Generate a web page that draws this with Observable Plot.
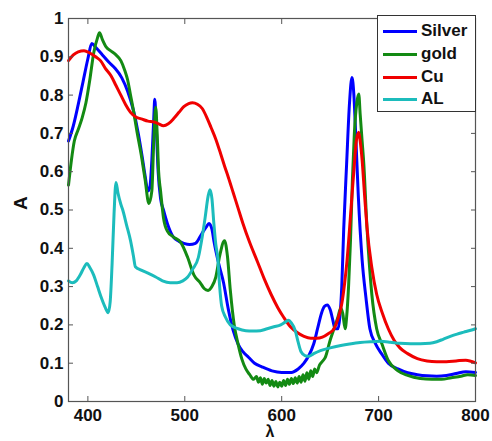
<!DOCTYPE html>
<html><head><meta charset="utf-8">
<script src="https://cdn.jsdelivr.net/npm/d3@7"></script>
<script src="https://cdn.jsdelivr.net/npm/@observablehq/plot@0.6"></script>
<style>
body{margin:0;background:#fff;}
#wrap{position:relative;width:492px;height:441px;font-family:"Liberation Sans",Arial,sans-serif;}
.legend{position:absolute;left:377px;top:15px;width:99px;height:97px;border:1px solid #333;background:#fff;box-sizing:border-box;}
.row{position:absolute;left:0;height:20px;width:98px;}
.sw{position:absolute;left:5px;top:9px;width:34px;height:3px;}
.lab{position:absolute;left:43px;top:0;font-size:17px;font-weight:bold;line-height:20px;color:#111;}
</style>
</head><body>
<div id="wrap"></div>
<script>
const seriesNames = ["Silver", "gold", "Cu", "AL"];
const seriesColors = ["#0000ff", "#138a13", "#f00000", "#1cbcbc"];
const xTicks = [400, 500, 600, 700, 800];
const yTicks = [0, 0.1, 0.2, 0.3, 0.4, 0.5, 0.6, 0.7, 0.8, 0.9, 1];

const silverL = [380,385,390,395,400,404,408,415,422,428,435,441,447,452,456,459,462,464,466,468,469,470.5,472.5,475,478,482,488,494,499,505,511,518,522,525,528,530,535,540,545,550,555,560,566,572,580,590,600,610,617,623,628,633,637,641,644,647,650,653,655,658,660,662,664,667,670,672.5,674.5,676,679,683,687,691,697,703,710,720,730,740,750,760,770,780,790,800];
const silverA = [0.68,0.72,0.775,0.835,0.895,0.935,0.925,0.905,0.885,0.87,0.845,0.81,0.76,0.70,0.64,0.59,0.55,0.56,0.63,0.74,0.789,0.72,0.60,0.53,0.50,0.465,0.43,0.418,0.413,0.41,0.413,0.44,0.455,0.465,0.45,0.42,0.36,0.31,0.24,0.185,0.15,0.13,0.115,0.10,0.09,0.08,0.076,0.076,0.085,0.10,0.12,0.15,0.19,0.23,0.248,0.252,0.24,0.21,0.19,0.19,0.22,0.30,0.45,0.62,0.78,0.846,0.80,0.72,0.54,0.37,0.27,0.19,0.15,0.125,0.10,0.085,0.075,0.07,0.067,0.066,0.068,0.073,0.078,0.076];

const goldL = [380,383,386,390,394,398,402,406,410,412,415,419,424,429,434,438,441,444,447,451,455,459,463,466,468,470,471.5,473,475,478,482,488,496,503,509.5,516,520,524,528,532,536,541,544,547,551,555,559,563,567,571,574,576,578,580,582,584,586,588,590,592,594,596,598,600,602,604,606,608,610,612,614,616,618,620,622,624,626,628,630,632,634,636,639,642,645,650,654,658,661,663,665.5,667,669,671,673,675,677.5,679.5,681,683,684.5,688,693,698,703.5,710,720,730,743,755,765,775,785,792,800];
const goldA = [0.565,0.63,0.68,0.71,0.74,0.78,0.84,0.91,0.95,0.963,0.945,0.925,0.915,0.905,0.89,0.865,0.84,0.80,0.76,0.70,0.645,0.58,0.517,0.55,0.68,0.768,0.70,0.60,0.55,0.48,0.445,0.43,0.415,0.376,0.33,0.31,0.295,0.29,0.30,0.325,0.38,0.42,0.38,0.29,0.20,0.15,0.11,0.085,0.07,0.058,0.065,0.05,0.062,0.045,0.06,0.048,0.058,0.042,0.055,0.04,0.052,0.038,0.05,0.04,0.055,0.042,0.058,0.045,0.06,0.047,0.062,0.048,0.065,0.05,0.07,0.053,0.075,0.058,0.08,0.065,0.085,0.075,0.095,0.105,0.115,0.16,0.19,0.22,0.245,0.23,0.19,0.22,0.30,0.42,0.58,0.70,0.78,0.803,0.75,0.68,0.63,0.455,0.28,0.19,0.15,0.107,0.08,0.068,0.06,0.058,0.058,0.062,0.066,0.07,0.068];

const cuL = [380,385,390,396,402,408,413,418,424,429,434,439,444,450,455,462,468,473,478,483,489,494,499,504,508,513,518,523,527,532,537,541,545,550,555,560,567,575,582,589,596,602,609,616,623,630,636,642,648,654,658,662,665,667.5,670,672.6,675,677,679.5,681,683,685.5,688,693,698,704,710,716,722,730,740,750,760,770,780,790,800];
const cuA = [0.89,0.905,0.913,0.916,0.91,0.90,0.89,0.87,0.85,0.825,0.80,0.775,0.755,0.742,0.738,0.732,0.73,0.725,0.72,0.725,0.74,0.755,0.77,0.778,0.78,0.776,0.765,0.74,0.716,0.685,0.647,0.615,0.585,0.545,0.505,0.465,0.415,0.365,0.32,0.28,0.245,0.22,0.195,0.18,0.17,0.165,0.165,0.168,0.177,0.19,0.215,0.255,0.31,0.37,0.45,0.54,0.62,0.68,0.703,0.68,0.63,0.54,0.455,0.35,0.28,0.23,0.19,0.16,0.14,0.125,0.112,0.106,0.104,0.104,0.106,0.108,0.101];

const alL = [380,384,388,392,396,399,402,406,410,414,418,421,423,425,427,429,431,434,436,440,444,447,449,455,462,470,477,485,492,498,503,508,514,518,521,524,526,528,530,532,534,536,538,542,547,555,563,570,578,585,592,599,604,607,610,614,617,620,624,628,633,640,650,661,670,681,692,702,712,722,733,743,753,760,767,774,781,788,795,800];
const alA = [0.315,0.31,0.315,0.33,0.35,0.36,0.35,0.33,0.30,0.27,0.245,0.232,0.26,0.36,0.49,0.572,0.545,0.515,0.50,0.46,0.42,0.38,0.352,0.343,0.335,0.325,0.315,0.31,0.31,0.315,0.325,0.345,0.376,0.43,0.48,0.535,0.553,0.53,0.465,0.41,0.376,0.30,0.25,0.22,0.20,0.19,0.185,0.184,0.185,0.19,0.195,0.20,0.208,0.212,0.205,0.185,0.155,0.13,0.12,0.118,0.125,0.133,0.14,0.146,0.15,0.154,0.156,0.157,0.155,0.152,0.151,0.151,0.152,0.156,0.163,0.17,0.176,0.181,0.186,0.19];

const seriesL = [silverL, goldL, cuL, alL];
const seriesA = [silverA, goldA, cuA, alA];
const rows = seriesNames.map((name, i) => seriesL[i].map((l, j) => ({series: name, lambda: l, A: seriesA[i][j]})));

const font = "Liberation Sans, Arial, sans-serif";
const chart = Plot.plot({
  width: 492, height: 441,
  marginLeft: 68, marginRight: 17, marginTop: 18, marginBottom: 40,
  style: {fontFamily: font, fontSize: "17px", fontWeight: "bold", color: "#111", background: "#fff", overflow: "visible"},
  x: {domain: [380, 800]},
  y: {domain: [0, 1]},
  marks: [
    ...rows.map((r, i) => Plot.line(r, {x: "lambda", y: "A", stroke: seriesColors[i], strokeWidth: 3, curve: "monotone-x"})),
    Plot.frame({stroke: "#555", strokeWidth: 1.2}),
    Plot.axisX(xTicks, {anchor: "bottom", tickSize: -5, tickPadding: 12, label: null, stroke: "#555"}),
    Plot.axisX(xTicks, {anchor: "top", tickSize: -5, tickFormat: () => "", label: null, stroke: "#555"}),
    Plot.axisY(yTicks, {anchor: "left", tickSize: -5, tickPadding: 10, tickFormat: d => String(d), label: null, stroke: "#555"}),
    Plot.axisY(yTicks, {anchor: "right", tickSize: -5, tickFormat: () => "", label: null, stroke: "#555"}),
    Plot.text(["λ"], {text: d => d, frameAnchor: "bottom", dy: 35, dx: -2, fontSize: 16, fontWeight: "bold", fill: "#111"}),
    Plot.text(["A"], {text: d => d, frameAnchor: "left", dx: -48, rotate: -90, fontSize: 19, fontWeight: "bold", fill: "#111"})
  ]
});
const wrap = document.getElementById("wrap");
wrap.appendChild(chart);

const legend = document.createElement("div");
legend.className = "legend";
const rowTops = [5, 28, 51, 73];
seriesNames.forEach((name, i) => {
  const row = document.createElement("div");
  row.className = "row";
  row.style.top = rowTops[i] + "px";
  const sw = document.createElement("div");
  sw.className = "sw";
  sw.style.background = seriesColors[i];
  const lab = document.createElement("div");
  lab.className = "lab";
  lab.textContent = name;
  row.appendChild(sw); row.appendChild(lab);
  legend.appendChild(row);
});
wrap.appendChild(legend);
</script>
</body></html>
